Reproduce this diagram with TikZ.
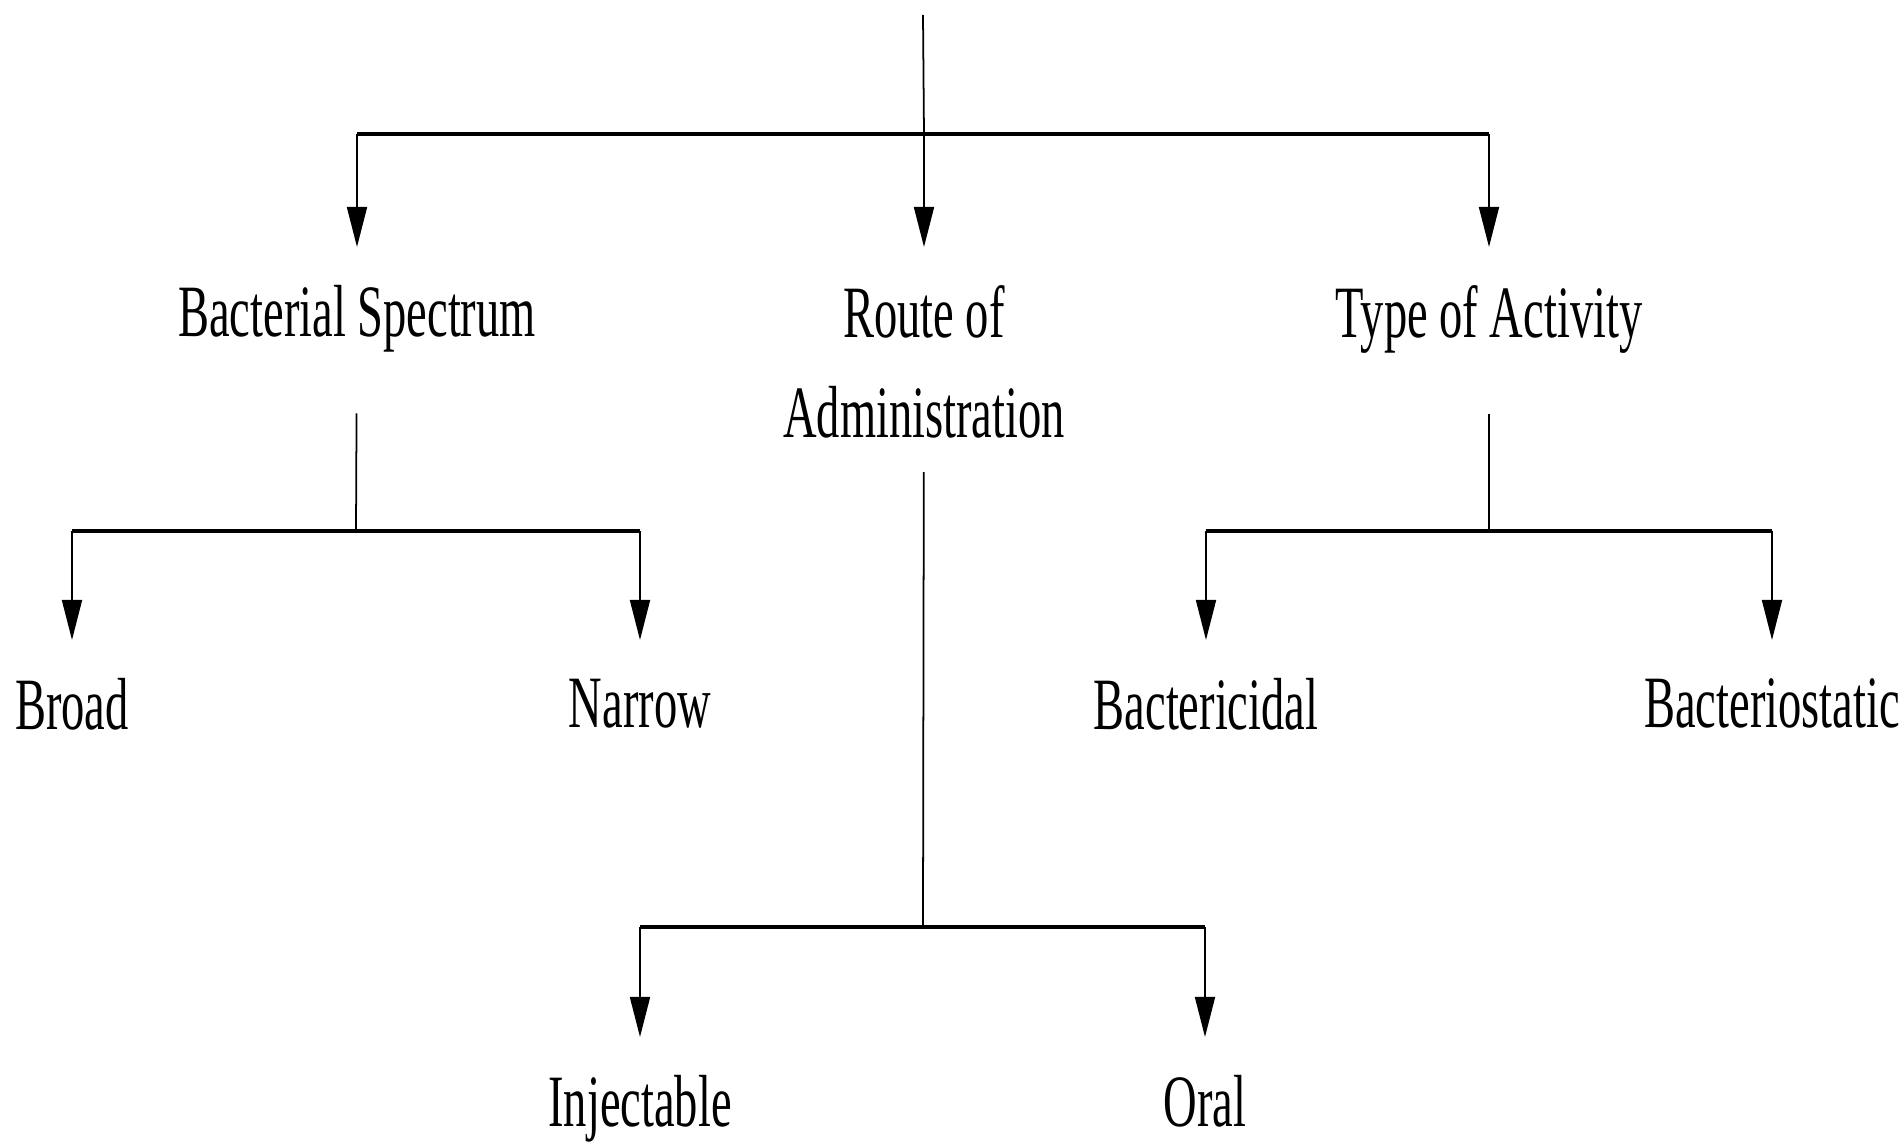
\documentclass[tikz,border=0pt]{standalone}
\usepackage{fontspec}
\newfontfamily\lblfont{Liberation Serif}[FakeStretch=0.63]
\usepackage{tikz}
\usetikzlibrary{arrows.meta,positioning}

\begin{document}
\begin{tikzpicture}[
  lbl/.style={inner sep=0pt, anchor=north, align=center, font=\lblfont\fontsize{21}{28.45}\selectfont},
  vline/.style={line width=0.5pt},
  hbar/.style={line width=1.1pt},
  down/.style={line width=0.5pt, -{Triangle[length=4mm, width=2mm]}, shorten >=3.8mm}
]
\useasboundingbox (0,0) rectangle (19.04,-11.44);

% headings
\node [lbl] (bs)  at (3.57,-2.85) {Bacterial Spectrum};
\node [lbl] (roa) at (9.24,-2.85) {Route of\\Administration};
\node [lbl] (toa) at (14.89,-2.85) {Type of Activity};

% leaves
\node [lbl] (broad)  at (0.72,-6.78) {Broad};
\node [lbl] (narrow) at (6.40,-6.78) {Narrow};
\node [lbl] (cidal)  at (12.06,-6.78) {Bactericidal};
\node [lbl] (static) at (17.72,-6.78) {Bacteriostatic};
\node [lbl] (inj)    at (6.40,-10.75) {Injectable};
\node [lbl] (oral)   at (12.05,-10.75) {Oral};

% junctions
\coordinate (top)  at (9.23,-0.15);
\coordinate (topj) at (9.23,-1.34);
\coordinate (bsj)  at (3.56,-5.31);
\coordinate (toaj) at (14.89,-5.31);
\coordinate (roaj) at (9.23,-9.27);

\draw [vline] (top) -- (roa |- topj);
\draw [hbar] (bs |- topj) -- (toa |- topj);
\draw [down] (bs |- topj) -- (bs);
\draw [down] (roa |- topj) -- (roa);
\draw [down] (toa |- topj) -- (toa);

\draw [vline, shorten <=6mm] (bs) -- (bsj);
\draw [hbar] (broad |- bsj) -- (narrow |- bsj);
\draw [down] (broad |- bsj) -- (broad);
\draw [down] (narrow |- bsj) -- (narrow);

\draw [vline, shorten <=3.3mm] (roa) -- (roaj);
\draw [hbar] (inj |- roaj) -- (oral |- roaj);
\draw [down] (inj |- roaj) -- (inj);
\draw [down] (oral |- roaj) -- (oral);

\draw [vline, shorten <=6mm] (toa) -- (toaj);
\draw [hbar] (cidal |- toaj) -- (static |- toaj);
\draw [down] (cidal |- toaj) -- (cidal);
\draw [down] (static |- toaj) -- (static);
\end{tikzpicture}
\end{document}
